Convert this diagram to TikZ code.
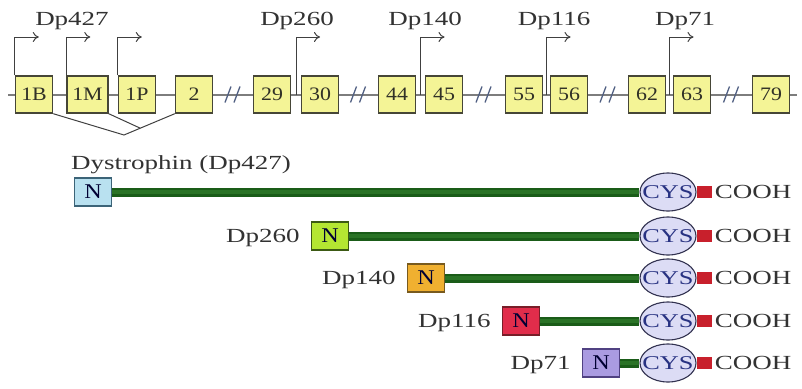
\documentclass[tikz,border=0pt]{standalone}
\usepackage{fontspec}
\setmainfont{Liberation Serif}
\newfontfamily\lblf{Liberation Serif}[FakeStretch=1.35]
\newfontfamily\boxf{Liberation Serif}[FakeStretch=1.15]
\usetikzlibrary{arrows.meta,shapes.geometric,calc,backgrounds}
\definecolor{exfill}{RGB}{244,244,150}
\definecolor{exdraw}{RGB}{70,70,55}
\definecolor{bone}{RGB}{125,125,125}
\definecolor{txt}{RGB}{50,50,50}
\definecolor{bar}{RGB}{26,92,24}
\definecolor{barin}{RGB}{42,115,38}
\definecolor{cysfill}{RGB}{220,220,245}
\definecolor{cysdraw}{RGB}{50,50,80}
\definecolor{cystxt}{RGB}{40,50,130}
\definecolor{cooh}{RGB}{200,32,44}
\definecolor{brkc}{RGB}{80,95,130}
\definecolor{nA}{RGB}{185,225,240}\definecolor{nAd}{RGB}{60,100,120}
\definecolor{nB}{RGB}{180,230,50}\definecolor{nBd}{RGB}{60,90,20}
\definecolor{nC}{RGB}{240,176,48}\definecolor{nCd}{RGB}{120,90,30}
\definecolor{nD}{RGB}{225,45,75}\definecolor{nDd}{RGB}{120,30,40}
\definecolor{nE}{RGB}{170,155,225}\definecolor{nEd}{RGB}{80,65,130}
\begin{document}
\begin{tikzpicture}[x=1pt,y=-1pt,
  exon/.style={draw=exdraw, line width=1.4pt, fill=exfill, minimum width=37pt, minimum height=37pt, inner sep=1pt, font=\boxf\fontsize{19}{19}\selectfont, text=exdraw!70!black},
  prom/.style={draw=black!75, line width=1pt, -{To[length=6pt,width=10pt]}},
  lbl/.style={font=\lblf\fontsize{20}{20}\selectfont, text=txt, inner sep=0pt},
  nbox/.style={draw, line width=1.2pt, minimum width=37pt, minimum height=28pt, inner sep=0pt, font=\boxf\fontsize{21}{21}\selectfont, text=black!80!blue},
  cys/.style={ellipse, draw=cysdraw, fill=cysfill, line width=1.1pt, minimum width=56pt, minimum height=38pt, inner sep=0pt, font=\lblf\fontsize{19.5}{19.5}\selectfont, text=cystxt},
  cterm/.style={rectangle, fill=cooh, minimum width=15pt, minimum height=12pt, inner sep=0pt},
  pbar/.style={line width=9pt, draw=bar},
  pbarin/.style={line width=3.5pt, draw=barin},
  splice/.style={draw=black!75, line width=1pt},
  backbone/.style={draw=bone, line width=1.5pt},
  brk/.style={draw=brkc, line width=1.3pt}]
\useasboundingbox (0,0) rectangle (802,388);
% exons
\foreach \n/\x in {1B/34,1P/137,2/194,29/272,30/320,44/397,45/444,55/524,56/569,62/647,63/692,79/771}
  \node[exon] (e\n) at (\x,94.5) {\n};
\node[exon, minimum width=41pt] (e1M) at (87.5,94.5) {1M};
\coordinate (bl) at (8,95);
\coordinate (br) at (797,95);
\begin{pgfonlayer}{background}
\draw[backbone] (bl) -- (br);
\end{pgfonlayer}
% break marks
\foreach \a/\b in {2/29,30/44,45/55,56/62,63/79}{
  \coordinate (m) at ($(e\a.east)!0.5!(e\b.west)$);
  \draw[brk] ($(m)+(-8,8)$) -- ($(m)+(-2,-8)$);
  \draw[brk] ($(m)+(1,8)$) -- ($(m)+(7,-8)$);
}
% promoters
\coordinate (top) at (0,37);
\foreach \n in {1B,1M,1P}
  \draw[prom] (e\n.north west) -- (e\n.north west |- top) -- ++(24,0);
\coordinate (p260) at ($(e29.east)!0.5!(e30.west)$);
\coordinate (p140) at ($(e44.east)!0.5!(e45.west)$);
\coordinate (p116) at ($(e55.east)!0.5!(e56.west)$);
\coordinate (p71) at ($(e62.east)!0.5!(e63.west)$);
\foreach \p in {p260,p140,p116,p71}
  \draw[prom] (\p) -- (\p |- top) -- ++(24,0);
\node[lbl, anchor=base] (l427) at (72,25) {Dp427};
\node[lbl, anchor=base] (l260) at (297,25) {Dp260};
\node[lbl, anchor=base] (l140) at (425,25) {Dp140};
\node[lbl, anchor=base] (l116) at (554,25) {Dp116};
\node[lbl, anchor=base] (l71) at (685,25) {Dp71};
% splicing
\coordinate (apex) at (124,135);
\draw[splice] (e1B.south east) -- (apex) -- (e2.south west);
\draw[splice] (e1M.south east) -- ($(apex)!0.32!(e2.south west)$);
% proteins
\node[lbl, anchor=base west] (title) at (71,169) {Dystrophin (Dp427)};
\foreach \i/\nx/\y/\fc/\dc/\name in {1/93/192/nA/nAd/,2/330/236/nB/nBd/Dp260,3/426/278/nC/nCd/Dp140,4/521/321/nD/nDd/Dp116,5/601/363/nE/nEd/Dp71}{
  \node[nbox, fill=\fc, draw=\dc] (n\i) at (\nx,\y) {N};
  \node[cys] (c\i) at (668,\y) {\makebox[0pt]{CYS}};
  \node[cterm] (t\i) at (704,\y) {};
  \node[lbl, anchor=base west] (h\i) at ($(t\i.east)+(3,6.6)$) {COOH};
  \node[lbl, anchor=base east] (d\i) at ($(n\i.west)+(-11,6.6)$) {\name};
  \begin{pgfonlayer}{background}
  \draw[pbar] (n\i.east) -- (c\i.west);
  \draw[pbarin] (n\i.east) -- (c\i.west);
  \end{pgfonlayer}
}
\end{tikzpicture}
\end{document}
